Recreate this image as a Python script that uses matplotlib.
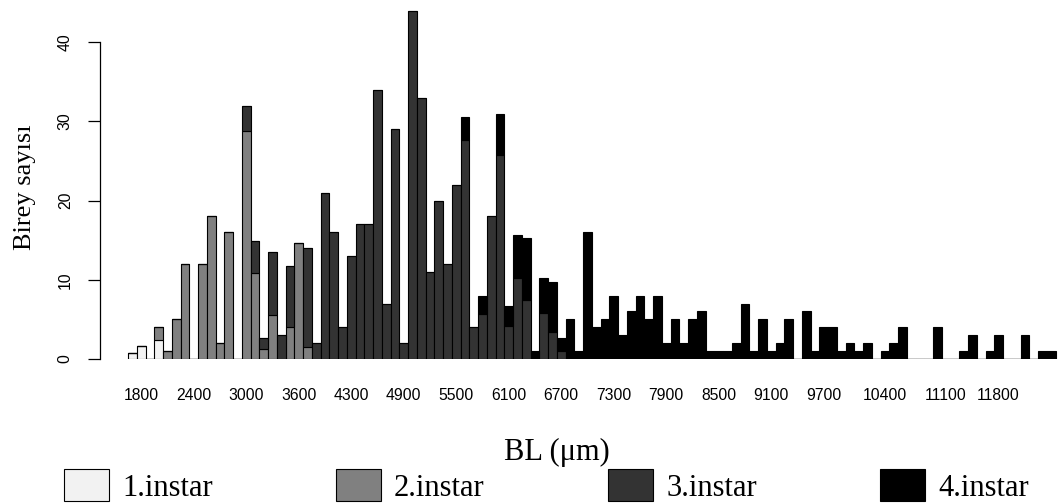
import numpy as np
import matplotlib
matplotlib.use("Agg")
import matplotlib.pyplot as plt
from matplotlib.patches import Rectangle

# BL classes (um); two classes had no specimens and are not in the table
bins = [b for b in range(1700, 12500, 100) if b not in (4000, 11500)]

shown_labels = [1800, 2400, 3000, 3600, 4300, 4900, 5500, 6100, 6700, 7300,
                7900, 8500, 9100, 9700, 10400, 11100, 11800]

instar1 = [0.75, 1.7, 0, 2.4, 0, 0, 0, 0, 0, 0,
           0, 0, 0, 0, 0, 0, 0, 0, 0, 0] + [0] * 86

instar2 = [0, 0, 0, 1.7, 1.0, 5.0, 12, 0, 12, 18,
           2, 16, 0, 28.8, 10.8, 1.2, 5.6, 0, 4.0, 14.7,
           1.5] + [0] * 85

instar3 = [0, 0, 0, 0, 0, 0, 0, 0, 0, 0,
           0, 0, 0, 3.1, 4.1, 1.4, 7.9, 3.0, 7.7, 0,
           12.5, 2, 21, 16, 4, 13, 17, 17, 34, 7,
           29, 2, 44, 33, 11, 20, 12, 22, 27.6, 4,
           5.7, 18, 25.8, 4.2, 10.2, 7.4, 0, 5.8, 3.4, 1.0] + [0] * 56

instar4 = [0] * 38 + [
    3.0, 0, 2.2, 0, 5.1, 2.5, 5.5, 7.9, 1, 4.4,
    6.3, 1.6, 5, 1, 16, 4, 5, 8, 3, 6,
    8, 5, 8, 2, 5, 2, 5, 6, 1, 1,
    1, 2, 7, 1, 5, 1, 2, 5, 0, 6,
    1, 4, 4, 1, 2, 1, 2, 0, 1, 2,
    4, 0, 0, 0, 4, 0, 0, 1, 3, 0,
    1, 3, 0, 0, 3, 0, 1, 1]

series = [instar1, instar2, instar3, instar4]
names = ["1.instar", "2.instar", "3.instar", "4.instar"]
fills = ["#f2f2f2", "#808080", "#333333", "#000000"]

W, H = 1059, 504
fig = plt.figure(figsize=(W / 100, H / 100), dpi=100)
ax = fig.add_axes([100 / W, (H - 359) / H, 1 - 100 / W, 359 / H])

x = np.arange(len(bins))
bottom = np.zeros(len(bins))
for vals, col in zip(series, fills):
    vals = np.array(vals, dtype=float)
    ax.bar(x, vals, width=1.0, bottom=bottom, color=col,
           edgecolor="black", linewidth=0.8)
    bottom += vals

ax.set_xlim(-3.7, 105.9)
ax.set_ylim(0, 359 / 7.92)

# axis like R: only left axis, line from 0 to 40
for side in ["top", "right", "bottom"]:
    ax.spines[side].set_visible(False)
ax.spines["left"].set_bounds(0, 40)
ax.spines["left"].set_linewidth(0.9)
ax.set_yticks([0, 10, 20, 30, 40])
ax.tick_params(axis="y", length=8.6, width=0.9, pad=11, labelsize=11.3)
for lab in ax.get_yticklabels():
    lab.set_rotation(90)
    lab.set_va("center")
    lab.set_family("Liberation Sans")

tick_pos = [bins.index(b) for b in shown_labels]
ax.set_xticks(tick_pos)
ax.set_xticklabels([str(b) for b in shown_labels], family="Liberation Sans",
                   fontsize=11.3)
ax.tick_params(axis="x", length=0, pad=21)

fig.text(25 / W, 1 - 187 / H, "Birey sayısı", rotation=90, ha="center",
         va="center", family="Liberation Serif", fontsize=19)
fig.text(557 / W, 1 - 452 / H, "BL (\u03bcm)", ha="center", va="center",
         family="Liberation Serif", fontsize=22)

# legend row along the bottom
box_left = [64, 336, 608, 880]
for bx, name, col in zip(box_left, names, fills):
    fig.add_artist(Rectangle((bx / W, 3 / H), 45 / W, 32 / H,
                             transform=fig.transFigure, facecolor=col,
                             edgecolor="black", linewidth=0.8))
    fig.text((bx + 58) / W, 8 / H, name, ha="left", va="baseline",
             family="Liberation Serif", fontsize=22)

fig.savefig("out.png", dpi=100)
